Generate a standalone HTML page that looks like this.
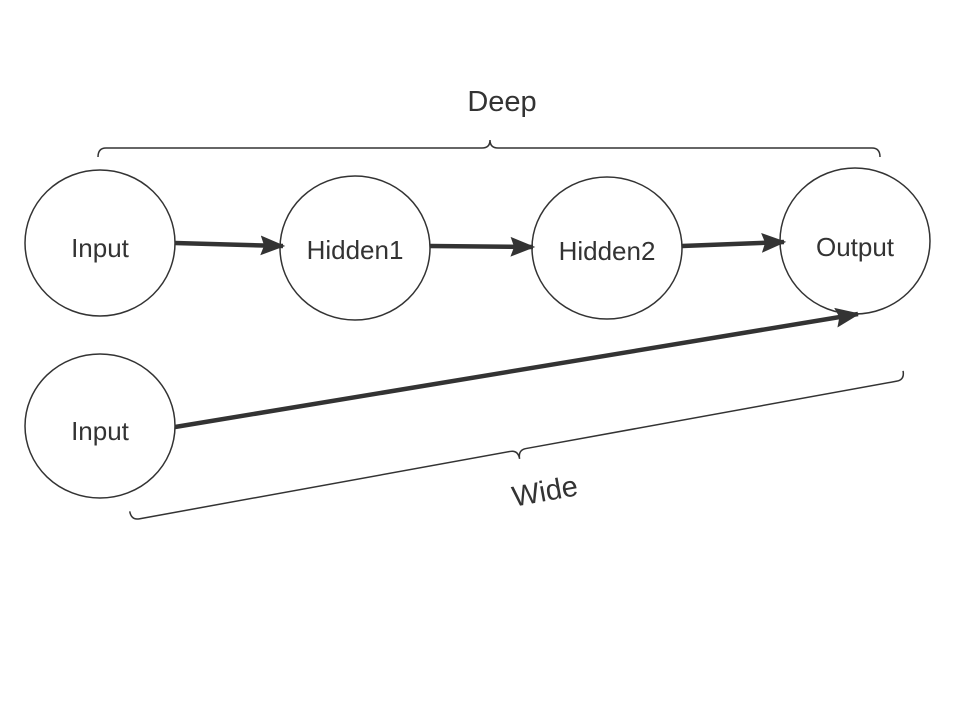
<!DOCTYPE html>
<html><head><style>body{margin:0;background:#fff}</style></head><body>
<svg width="958" height="710" viewBox="0 0 958 710" xmlns="http://www.w3.org/2000/svg" font-family="Liberation Sans, sans-serif">
<defs><marker id="a" markerWidth="6" markerHeight="6" refX="5" refY="3" orient="auto" markerUnits="strokeWidth"><path d="M0,0.8 L5.5,3 L0,5.2 L0.8,3 Z" fill="#333"/></marker></defs>
<g fill="none" stroke="#333" stroke-width="1.5">
<ellipse cx="100" cy="243" rx="75" ry="73"/>
<ellipse cx="355" cy="248" rx="75" ry="72"/>
<ellipse cx="607" cy="248" rx="75" ry="71"/>
<ellipse cx="855" cy="241" rx="75" ry="73"/>
<ellipse cx="100" cy="426" rx="75" ry="72"/>
<path d="M98,157 Q98,148 106,148 L482,148 Q490,148 490,140 Q490,148 498,148 L872,148 Q880,148 880,157"/>
<g transform="rotate(-10.3 518 450)"><path d="M125,441 Q125,450 133,450 L510,450 Q518,450 518,459 Q518,450 526,450 L903,450 Q911,450 911,441"/></g>
</g>
<g stroke="#333" stroke-width="4.5" fill="none" marker-end="url(#a)">
<line x1="175" y1="243" x2="283" y2="246"/>
<line x1="430" y1="246" x2="533" y2="247"/>
<line x1="682" y1="246" x2="784" y2="242"/>
<line x1="175" y1="427" x2="858" y2="314"/>
</g>
<g fill="#333" font-size="26" text-anchor="middle">
<text x="100" y="257">Input</text>
<text x="355" y="259">Hidden1</text>
<text x="607" y="260">Hidden2</text>
<text x="855" y="256">Output</text>
<text x="100" y="440">Input</text>
<text x="502" y="111" font-size="29">Deep</text>
<text x="545" y="501" font-size="29" transform="rotate(-10.3 545 492)">Wide</text>
</g>
</svg>
</body></html>
